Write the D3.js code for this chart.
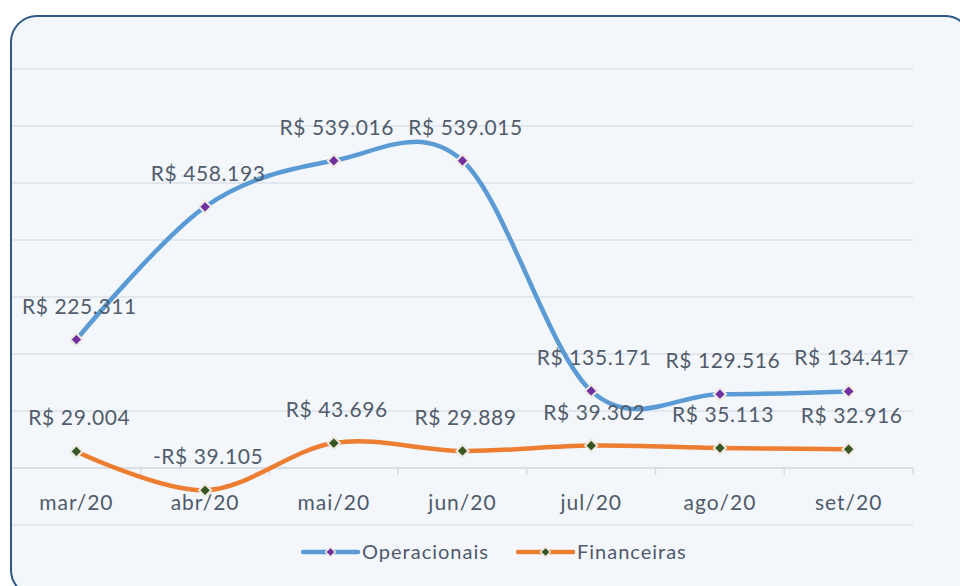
<!DOCTYPE html>
<html><head><meta charset="utf-8">
<script src="https://cdn.jsdelivr.net/npm/d3@7"></script>
<style>
html,body{margin:0;padding:0;background:#fff;}
svg{display:block;font-family:Lato,"Open Sans",sans-serif;}
</style></head>
<body><svg id="c" width="960" height="586"></svg>
<script>
const months = ["mar/20","abr/20","mai/20","jun/20","jul/20","ago/20","set/20"];
const operacionais = [225311, 458193, 539016, 539015, 135171, 129516, 134417];
const financeiras = [29004, -39105, 43696, 29889, 39302, 35113, 32916];
const yTicks = [-100000, 0, 100000, 200000, 300000, 400000, 500000, 600000, 700000];
const seriesNames = ["Operacionais", "Financeiras"];

const fmt = v => (v < 0 ? "-R$ " : "R$ ") + d3.format(",")(Math.abs(v)).replace(/,/g, ".");

const svg = d3.select("#c");
// frame
svg.append("rect").attr("x",11).attr("y",16).attr("width",960).attr("height",580)
  .attr("rx",26).attr("ry",26).attr("fill","#f3f7fb").attr("stroke","#2e5a87").attr("stroke-width",2);

const pL = 12, pR = 913, pT = 69, pB = 525;
const x = d3.scaleBand().domain(months).range([pL, pR]);
const y = d3.scaleLinear().domain([-100000, 700000]).range([pB, pT]);

// gridlines
svg.append("g").selectAll("line").data(yTicks).join("line")
  .attr("x1", pL).attr("x2", pR)
  .attr("y1", d => y(d)).attr("y2", d => y(d))
  .attr("stroke", "#dde2e9").attr("stroke-width", 1.5);

// x axis at zero
const xAxis = d3.axisBottom(x).tickSize(0).tickPadding(0);
const gx = svg.append("g").attr("transform", `translate(0,${y(0)})`).call(xAxis);
gx.select(".domain").remove();
gx.selectAll("text").attr("dy", null).attr("y", 42)
  .attr("font-size", 21).attr("letter-spacing", 1).attr("fill", "#4f5a6a").attr("font-family","Lato, sans-serif");
svg.append("line").attr("x1", pL).attr("x2", pR).attr("y1", y(0)).attr("y2", y(0))
  .attr("stroke", "#d6dbe2").attr("stroke-width", 1.5);
// category boundary ticks
const bounds = months.map(m => x(m)).concat([pR]).slice(1);
svg.append("g").selectAll("line").data(bounds).join("line")
  .attr("x1", d => d).attr("x2", d => d)
  .attr("y1", y(0)).attr("y2", y(0) + 7)
  .attr("stroke", "#d6dbe2").attr("stroke-width", 1.5);

const cx = m => x(m) + x.bandwidth() / 2;
const line = d3.line().x((d,i) => cx(months[i])).y(d => y(d)).curve(d3.curveCardinal.tension(0));

const series = [
  {name: seriesNames[0], values: operacionais, color: "#5b9bd5", marker: "#7030a0"},
  {name: seriesNames[1], values: financeiras, color: "#ed7d31", marker: "#375623"}
];
const diamond = d3.symbol().type(d3.symbolDiamond2).size(95);

series.forEach(s => {
  svg.append("path").attr("d", line(s.values)).attr("fill","none")
    .attr("stroke", s.color).attr("stroke-width", 4.5).attr("stroke-linecap","round");
});
series.forEach(s => {
  svg.append("g").selectAll("path").data(s.values).join("path")
    .attr("d", diamond)
    .attr("transform", (d,i) => `translate(${cx(months[i])},${y(d)})`)
    .attr("fill", s.marker).attr("stroke", "#eee8e0").attr("stroke-width", 2);
});
series.forEach(s => {
  svg.append("g").selectAll("text").data(s.values).join("text")
    .attr("x", (d,i) => cx(months[i]) + 3)
    .attr("y", d => y(d) - 26)
    .attr("text-anchor","middle")
    .attr("font-size", 21).attr("letter-spacing", 0.6).attr("fill", "#525c6b")
    .text(d => fmt(d));
});

// legend
const legend = [
  {name: seriesNames[0], x0: 303, color: "#5b9bd5", marker: "#7030a0"},
  {name: seriesNames[1], x0: 518, color: "#ed7d31", marker: "#375623"}
];
const ly = 552;
legend.forEach(l => {
  svg.append("line").attr("x1", l.x0).attr("x2", l.x0 + 55).attr("y1", ly).attr("y2", ly)
    .attr("stroke", l.color).attr("stroke-width", 4.5).attr("stroke-linecap","round");
  svg.append("path").attr("d", d3.symbol().type(d3.symbolDiamond2).size(60))
    .attr("transform", `translate(${l.x0 + 27.5},${ly})`)
    .attr("fill", l.marker).attr("stroke", "#eee8e0").attr("stroke-width", 1.5);
  svg.append("text").attr("x", l.x0 + 59).attr("y", ly).attr("dy", "0.35em")
    .attr("font-size", 20).attr("letter-spacing", 1).attr("fill", "#4f5a6a").text(l.name);
});
</script></body></html>
